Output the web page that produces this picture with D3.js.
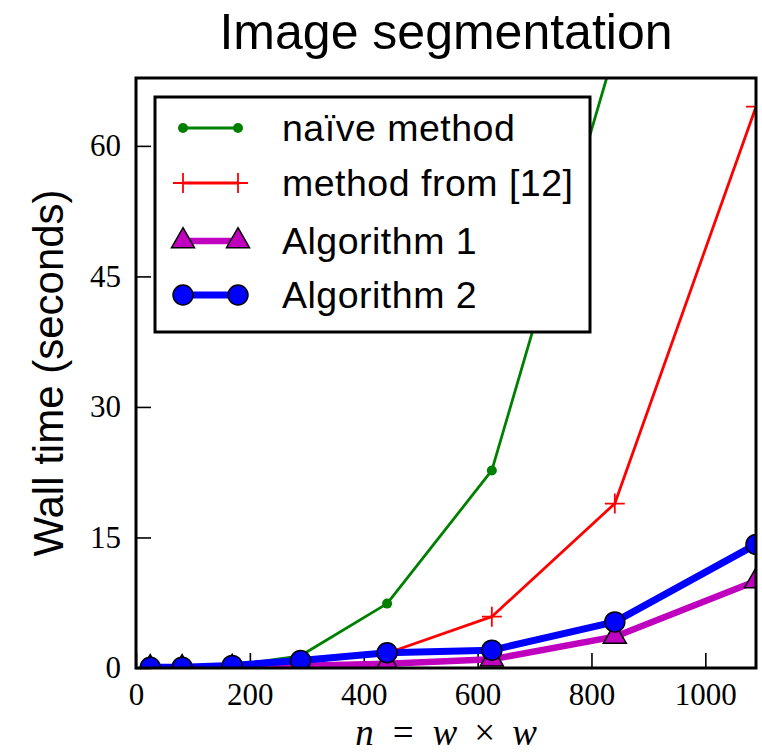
<!DOCTYPE html>
<html>
<head>
<meta charset="utf-8">
<script src="https://cdn.jsdelivr.net/npm/d3@7"></script>
<style>
  html, body { margin: 0; padding: 0; background: #fff; }
  svg { display: block; }
</style>
</head>
<body>
<svg id="chart" width="762" height="753"></svg>
<script>
// ---- data ----
const nValues = [25, 81, 169, 289, 441, 625, 841, 1089];
const naiveMethod = [0.02, 0.05, 0.3, 1.4, 7.4, 22.7, 71, 190];
const method12 = [0.01, 0.03, 0.15, 0.6, 1.7, 5.9, 18.9, 64.5];
const algorithm1 = [0.01, 0.02, 0.05, 0.25, 0.5, 1.0, 3.6, 10.0];
const algorithm2 = [0.08, 0.1, 0.3, 0.85, 1.75, 2.05, 5.3, 14.2];
const xTicks = [0, 200, 400, 600, 800, 1000];
const yTicks = [0, 15, 30, 45, 60];
const legendLabels = ["naïve method", "method from [12]", "Algorithm 1", "Algorithm 2"];
const titleText = "Image segmentation";
const yLabelText = "Wall time (seconds)";

// ---- layout ----
const svg = d3.select("#chart");
const L = 136, R = 756, T = 78, B = 668;
const x = d3.scaleLinear().domain([0, 1089]).range([L, R]);
const y = d3.scaleLinear().domain([0, 67.8]).range([B, T]);

const series = [
  { name: legendLabels[0], values: naiveMethod, color: "#008000", width: 2.8, marker: "dot" },
  { name: legendLabels[1], values: method12, color: "#ff0000", width: 2.8, marker: "plus" },
  { name: legendLabels[2], values: algorithm1, color: "#bf00bf", width: 6.5, marker: "tri" },
  { name: legendLabels[3], values: algorithm2, color: "#0000ff", width: 7, marker: "circle" }
];

svg.append("defs").append("clipPath").attr("id", "plotclip")
  .append("rect").attr("x", L).attr("y", T).attr("width", R - L).attr("height", B - T);

// axes
const sansFont = "'Liberation Sans', Arial, Helvetica, sans-serif";
const serifFont = "'Liberation Serif', 'Times New Roman', serif";

const xAxis = d3.axisBottom(x).tickValues(xTicks).tickSizeInner(-15).tickSizeOuter(0).tickPadding(15)
  .tickFormat(d3.format("d"));
const gx = svg.append("g").attr("transform", `translate(0,${B})`).call(xAxis);
gx.select(".domain").remove();
gx.selectAll(".tick line").attr("stroke", "#000").attr("stroke-width", 1.6);
gx.selectAll(".tick text").attr("font-family", serifFont).attr("font-size", 31).attr("fill", "#000");

const yAxis = d3.axisLeft(y).tickValues(yTicks).tickSizeInner(-15).tickSizeOuter(0).tickPadding(15)
  .tickFormat(d3.format("d"));
const gy = svg.append("g").attr("transform", `translate(${L},0)`).call(yAxis);
gy.select(".domain").remove();
gy.selectAll(".tick line").attr("stroke", "#000").attr("stroke-width", 1.6);
gy.selectAll(".tick text").attr("font-family", serifFont).attr("font-size", 31).attr("fill", "#000");

// plot
const plot = svg.append("g").attr("clip-path", "url(#plotclip)");

function drawMarker(g, type, color, cx, cy) {
  if (type === "dot") {
    g.append("circle").attr("cx", cx).attr("cy", cy).attr("r", 5).attr("fill", color);
  } else if (type === "plus") {
    const s = 10;
    g.append("path").attr("d", `M${cx - s},${cy}H${cx + s}M${cx},${cy - s}V${cy + s}`)
      .attr("stroke", color).attr("stroke-width", 1.8).attr("fill", "none");
  } else if (type === "tri") {
    const sym = d3.symbol().type(d3.symbolTriangle).size(230);
    g.append("path").attr("d", sym()).attr("transform", `translate(${cx},${cy})`)
      .attr("fill", color).attr("stroke", "#000").attr("stroke-width", 1.5);
  } else if (type === "circle") {
    g.append("circle").attr("cx", cx).attr("cy", cy).attr("r", 10).attr("fill", color)
      .attr("stroke", "#000").attr("stroke-width", 1.5);
  }
}

series.forEach(s => {
  const pts = nValues.map((n, i) => [n, s.values[i]]);
  const line = d3.line().x(d => x(d[0])).y(d => y(d[1]));
  const g = plot.append("g");
  g.append("path").attr("d", line(pts)).attr("fill", "none").attr("stroke", s.color)
    .attr("stroke-width", s.width).attr("stroke-linejoin", "round");
  pts.forEach(p => drawMarker(g, s.marker, s.color, x(p[0]), y(p[1])));
});

// frame
svg.append("rect").attr("x", L).attr("y", T).attr("width", R - L).attr("height", B - T)
  .attr("fill", "none").attr("stroke", "#000").attr("stroke-width", 3);

// legend
const lg = svg.append("g");
lg.append("rect").attr("x", 155).attr("y", 97).attr("width", 435).attr("height", 235)
  .attr("fill", "#fff").attr("stroke", "#000").attr("stroke-width", 3);
const rowY = [128, 183, 241, 295];
series.forEach((s, i) => {
  const yy = rowY[i];
  lg.append("line").attr("x1", 183).attr("x2", 238).attr("y1", yy).attr("y2", yy)
    .attr("stroke", s.color).attr("stroke-width", s.width);
  drawMarker(lg, s.marker, s.color, 183, yy);
  drawMarker(lg, s.marker, s.color, 238, yy);
  lg.append("text").attr("x", 282).attr("y", yy + 13).text(s.name)
    .attr("font-family", sansFont).attr("font-size", 37.5).attr("letter-spacing", 0.5)
    .attr("fill", "#000");
});

// title
svg.append("text").attr("x", (L + R) / 2).attr("y", 49).attr("text-anchor", "middle")
  .attr("font-family", sansFont).attr("font-size", 50).attr("fill", "#000").text(titleText);

// y label
svg.append("text").attr("transform", `translate(63,${(T + B) / 2}) rotate(-90)`)
  .attr("text-anchor", "middle").attr("font-family", sansFont).attr("font-size", 42)
  .attr("fill", "#000").text(yLabelText);

// x label: n = w × w
const xl = svg.append("text").attr("x", (L + R) / 2).attr("y", 745).attr("text-anchor", "middle")
  .attr("font-family", serifFont).attr("font-size", 37).attr("fill", "#000");
xl.append("tspan").attr("font-style", "italic").text("n");
xl.append("tspan").attr("dx", 19).text("=");
xl.append("tspan").attr("dx", 19).attr("font-style", "italic").text("w");
xl.append("tspan").attr("dx", 17).text("×");
xl.append("tspan").attr("dx", 17).attr("font-style", "italic").text("w");
</script>
</body>
</html>
